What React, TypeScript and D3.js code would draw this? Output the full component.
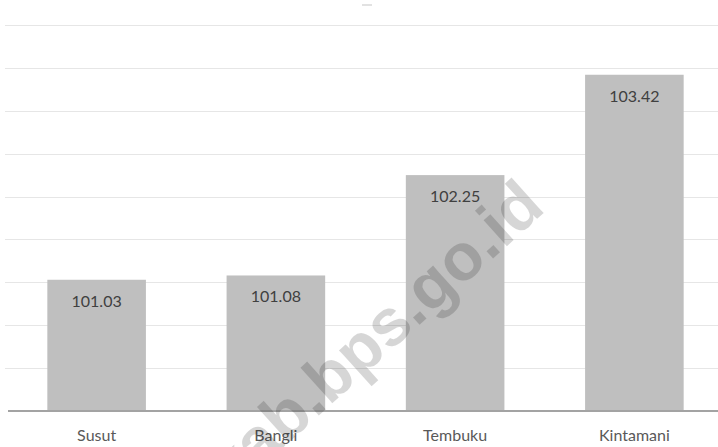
import React from "react";
import * as d3 from "d3";

const categories: string[] = ["Susut", "Bangli", "Tembuku", "Kintamani"];
const values: number[] = [101.03, 101.08, 102.25, 103.42];
const valueLabels: string[] = ["101.03", "101.08", "102.25", "103.42"];
const gridTicks: number[] = [100, 100.5, 101, 101.5, 102, 102.5, 103, 103.5, 104];
const watermark = "kab.bps.go.id";

const W = 718;
const H = 447;

export default function App() {
  const x = d3
    .scaleBand<string>()
    .domain(categories)
    .range([7, 724])
    .paddingInner(0.45)
    .paddingOuter(0.225);
  const y = d3.scaleLinear().domain([99.5, 104]).range([411, 25]);
  const font = "Lato, 'Open Sans', sans-serif";

  return (
    <svg
      width={W}
      height={H}
      style={{ position: "absolute", left: 0, top: 0, background: "#fff" }}
    >
      <rect x={0} y={0} width={W} height={H} fill="#ffffff" />
      <rect x={362} y={4} width={10} height={2} fill="#e2e2e2" />
      {gridTicks.map((t) => (
        <line
          key={t}
          x1={5}
          x2={W}
          y1={Math.round(y(t)) + 0.5}
          y2={Math.round(y(t)) + 0.5}
          stroke="#e6e6e6"
          strokeWidth={1}
        />
      ))}
      {categories.map((c, i) => (
        <rect
          key={c}
          x={x(c)}
          y={y(values[i])}
          width={x.bandwidth()}
          height={y(99.5) - y(values[i])}
          fill="#bfbfbf"
        />
      ))}
      <line x1={8} x2={W} y1={y(99.5)} y2={y(99.5)} stroke="#a3a3a3" strokeWidth={2} />
      {categories.map((c, i) => (
        <text
          key={"v" + c}
          x={(x(c) as number) + x.bandwidth() / 2}
          y={y(values[i]) + 27}
          textAnchor="middle"
          fontFamily={font}
          fontSize={16}
          fill="#404040"
        >
          {valueLabels[i]}
        </text>
      ))}
      {categories.map((c) => (
        <text
          key={"c" + c}
          x={(x(c) as number) + x.bandwidth() / 2}
          y={441}
          textAnchor="middle"
          fontFamily={font}
          fontSize={16}
          fill="#595959"
        >
          {c}
        </text>
      ))}
      <text
        transform="translate(547,210) rotate(-42)"
        textAnchor="end"
        fontFamily="'Liberation Sans', Arial, sans-serif"
        fontWeight="bold"
        fontSize={66}
        fill="#000"
        fillOpacity={0.16}
      >
        {watermark}
      </text>
    </svg>
  );
}
